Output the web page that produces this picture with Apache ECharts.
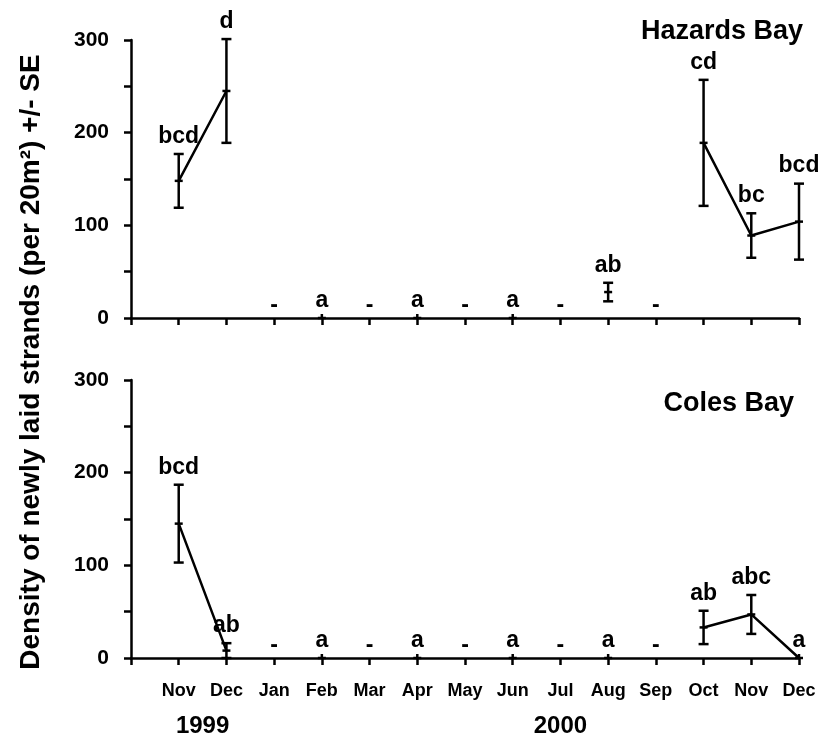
<!DOCTYPE html>
<html>
<head>
<meta charset="utf-8">
<script src="https://cdn.jsdelivr.net/npm/echarts@6/dist/echarts.min.js"></script>
<style>html,body{margin:0;padding:0;background:#fff}#c{width:822px;height:738px}</style>
</head>
<body>
<div id="c"></div>
<script>
// ---- data ----
const months = ['Nov','Dec','Jan','Feb','Mar','Apr','May','Jun','Jul','Aug','Sep','Oct','Nov','Dec'];
const yearLabels = ['1999', '2000'];
const yearAt = [1.5, 9];            // month position (1-based) under which each year sits
const yTicks = [0, 100, 200, 300];

const hazardsTitle = 'Hazards Bay';
const hazardsMean = [148, 245, null, 0, null, 0, null, 0, null, 28, null, 189, 89, 104];
const hazardsSE   = [29, 56, null, 0, null, 0, null, 0, null, 10, null, 68, 24, 41];
const hazardsLetters = ['bcd','d','-','a','-','a','-','a','-','ab','-','cd','bc','bcd'];

const colesTitle = 'Coles Bay';
const colesMean = [145, 8, null, 0, null, 0, null, 0, null, 0, null, 33, 47, 0];
const colesSE   = [42, 8, null, 0, null, 0, null, 0, null, 0, null, 18, 21, 0];
const colesLetters = ['bcd','ab','-','a','-','a','-','a','-','a','-','ab','abc','a'];

const yTitle = 'Density of newly laid strands (per 20m\u00B2) +/- SE';

// ---- chart ----
const FONT = "'Liberation Sans', Arial, sans-serif";
const chart = echarts.init(document.getElementById('c'), null, {renderer: 'canvas'});

function makeRender(means, ses, letters) {
  return function (params, api) {
    const i = params.dataIndex;
    const xv = api.value(0);
    const m = means[i], s = ses[i];
    const base = api.coord([xv, 0]);
    const children = [];
    const st = {stroke: '#000', lineWidth: 2.5};
    if (m === null) {
      children.push({type: 'text', style: {text: letters[i], x: base[0], y: base[1] - 12,
        font: 'bold 23px ' + FONT, fill: '#000', align: 'center', verticalAlign: 'middle'}});
      return {type: 'group', children};
    }
    const pm = api.coord([xv, m]);
    const pt = api.coord([xv, m + s]);
    const pb = api.coord([xv, Math.max(0, m - s)]);
    if (s > 0) {
      children.push({type: 'line', shape: {x1: pt[0], y1: pt[1], x2: pb[0], y2: pb[1]}, style: st});
      children.push({type: 'line', shape: {x1: pt[0] - 5, y1: pt[1], x2: pt[0] + 5, y2: pt[1]}, style: st});
      children.push({type: 'line', shape: {x1: pb[0] - 5, y1: pb[1], x2: pb[0] + 5, y2: pb[1]}, style: st});
    } else {
      children.push({type: 'line', shape: {x1: pm[0], y1: pm[1], x2: pm[0], y2: pm[1] - 4}, style: st});
    }
    children.push({type: 'line', shape: {x1: pm[0] - 4, y1: pm[1], x2: pm[0] + 4, y2: pm[1]}, style: st});
    children.push({type: 'text', style: {text: letters[i], x: pt[0], y: pt[1] - 6,
      font: 'bold 23px ' + FONT, fill: '#000', align: 'center', verticalAlign: 'bottom'}});
    return {type: 'group', children};
  };
}

function yAxis(gi) {
  return {
    type: 'value', gridIndex: gi, min: 0, max: 300, interval: 50,
    axisLine: {show: true, lineStyle: {color: '#000', width: 2.5}},
    axisTick: {show: true, length: 7, lineStyle: {color: '#000', width: 2.5}},
    splitLine: {show: false},
    axisLabel: {margin: 22, color: '#000', fontFamily: FONT, fontWeight: 'bold', fontSize: 21,
      formatter: v => (yTicks.indexOf(v) >= 0 ? String(v) : '')}
  };
}
function xAxis(gi, showLabels) {
  return {
    type: 'value', gridIndex: gi, min: 0, max: 14, interval: 1,
    axisLine: {show: true, onZero: true, lineStyle: {color: '#000', width: 2.5}},
    axisTick: {show: true, length: 7, lineStyle: {color: '#000', width: 2.5}},
    splitLine: {show: false},
    axisLabel: {show: showLabels, margin: 24, color: '#000', fontFamily: FONT, fontWeight: 'bold', fontSize: 18,
      showMinLabel: true, showMaxLabel: true,
      formatter: v => (v >= 1 && v <= months.length ? months[v - 1] : '')}
  };
}
function lineData(means) { return means.map((v, i) => [i + 1, v === null ? '-' : v]); }
function barData(means, ses) { return means.map((v, i) => [i + 1, v === null ? 0 : v, ses[i] === null ? 0 : ses[i]]); }

const option = {
  animation: false,
  backgroundColor: '#fff',
  grid: [
    {left: 131, top: 40, width: 668, height: 278},
    {left: 131, top: 380, width: 668, height: 278}
  ],
  xAxis: [xAxis(0, false), xAxis(1, true)],
  yAxis: [yAxis(0), yAxis(1)],
  series: [
    {type: 'line', xAxisIndex: 0, yAxisIndex: 0, data: lineData(hazardsMean), symbol: 'none',
      connectNulls: false, lineStyle: {color: '#000', width: 2.5}, z: 2},
    {type: 'custom', xAxisIndex: 0, yAxisIndex: 0, data: barData(hazardsMean, hazardsSE),
      renderItem: makeRender(hazardsMean, hazardsSE, hazardsLetters), clip: false, z: 3},
    {type: 'line', xAxisIndex: 1, yAxisIndex: 1, data: lineData(colesMean), symbol: 'none',
      connectNulls: false, lineStyle: {color: '#000', width: 2.5}, z: 2},
    {type: 'custom', xAxisIndex: 1, yAxisIndex: 1, data: barData(colesMean, colesSE),
      renderItem: makeRender(colesMean, colesSE, colesLetters), clip: false, z: 3}
  ],
  graphic: [
    {type: 'text', id: 'ytitle', x: 31, y: 362, rotation: Math.PI / 2,
      style: {text: yTitle, font: 'bold 28px ' + FONT, fill: '#000', align: 'center', verticalAlign: 'middle'}},
    {type: 'text', id: 't1', x: 803, y: 32,
      style: {text: hazardsTitle, font: 'bold 27px ' + FONT, fill: '#000', align: 'right', verticalAlign: 'middle'}},
    {type: 'text', id: 't2', x: 794, y: 404,
      style: {text: colesTitle, font: 'bold 27px ' + FONT, fill: '#000', align: 'right', verticalAlign: 'middle'}}
  ]
};
chart.setOption(option);

// year labels placed through the bottom x axis scale
const yearGraphics = yearLabels.map((t, k) => {
  const p = chart.convertToPixel({xAxisIndex: 1, yAxisIndex: 1}, [yearAt[k], 0]);
  return {type: 'text', id: 'yr' + k, x: p[0], y: p[1] + 68,
    style: {text: t, font: 'bold 24px ' + FONT, fill: '#000', align: 'center', verticalAlign: 'middle'}};
});
chart.setOption({graphic: yearGraphics});
</script>
</body>
</html>
